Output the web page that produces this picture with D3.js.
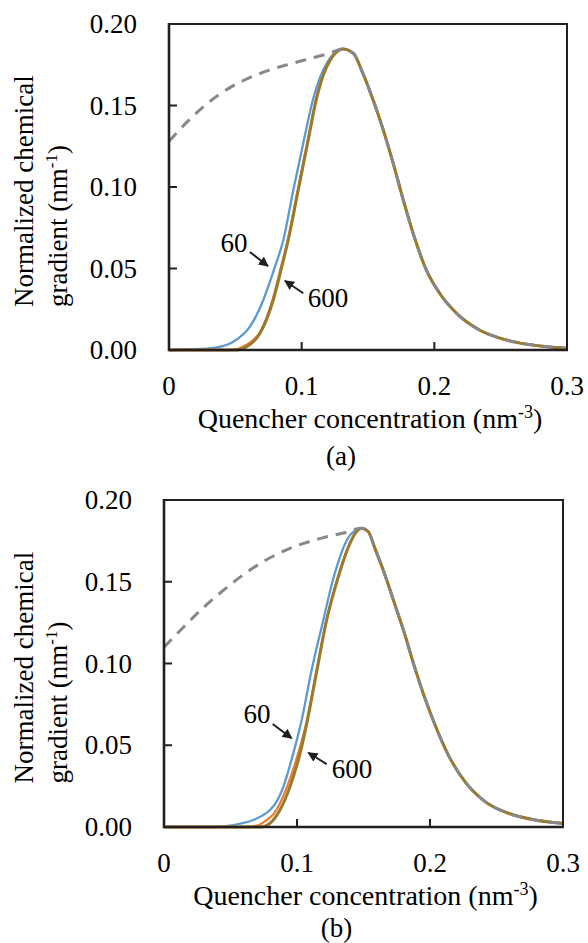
<!DOCTYPE html>
<html lang="en">
<head>
<meta charset="UTF-8">
<title>Normalized chemical gradient</title>
<script src="https://d3js.org/d3.v7.min.js"></script>
<style>
  body { margin: 0; background: #fff; }
</style>
</head>
<body>
<script>
var serif = "Liberation Serif";

// ticks
var xTicks = [0, 0.1, 0.2, 0.3];
var xTickLabels = ["0", "0.1", "0.2", "0.3"];
var yTicks = [0, 0.05, 0.10, 0.15, 0.20];
var yTickLabels = ["0.00", "0.05", "0.10", "0.15", "0.20"];

// panel (a) - rising side of each curve
var a60X  = [0, 0.023, 0.036, 0.0485, 0.061, 0.0711, 0.0799, 0.0862, 0.0937, 0.1017, 0.108, 0.114, 0.119, 0.125, 0.131];
var a60Y  = [0, 0.0006, 0.0016, 0.0051, 0.0143, 0.0307, 0.0511, 0.0675, 0.0982, 0.1288, 0.152, 0.1675, 0.176, 0.1825, 0.1847];
var a120X = [0, 0.045, 0.052, 0.058, 0.0635, 0.069, 0.078, 0.0845, 0.0895, 0.097, 0.1046, 0.1106, 0.1162, 0.1211, 0.1258, 0.131];
var a120Y = [0, 0, 0.0007, 0.003, 0.0061, 0.0115, 0.0307, 0.051, 0.0675, 0.098, 0.129, 0.1535, 0.169, 0.1775, 0.1825, 0.1847];
var a600X = [0, 0.05, 0.054, 0.0585, 0.0686, 0.0786, 0.085, 0.0899, 0.0974, 0.105, 0.111, 0.1165, 0.1213, 0.126, 0.131];
var a600Y = [0, 0, 0.0005, 0.002, 0.0102, 0.0307, 0.051, 0.0675, 0.098, 0.129, 0.1535, 0.169, 0.1775, 0.1825, 0.1847];
// panel (a) - shared falling side
var aFallX = [0.139, 0.146, 0.154, 0.1615, 0.169, 0.1766, 0.184, 0.194, 0.204, 0.2168, 0.234, 0.2545, 0.2796, 0.3];
var aFallY = [0.182, 0.170, 0.153, 0.135, 0.1145, 0.092, 0.0716, 0.049, 0.0348, 0.0225, 0.0123, 0.0061, 0.0025, 0.001];
// panel (a) - dashed envelope
var aEnvX = [0, 0.015, 0.03, 0.045, 0.06, 0.075, 0.09, 0.105, 0.12, 0.131];
var aEnvY = [0.128, 0.141, 0.152, 0.1605, 0.1668, 0.1715, 0.1752, 0.1785, 0.1818, 0.1847];

// panel (b) - rising side
var b60X  = [0, 0.04, 0.052, 0.060, 0.0671, 0.0735, 0.0797, 0.085, 0.0897, 0.0972, 0.1035, 0.111, 0.1198, 0.126, 0.131, 0.136, 0.141, 0.1486];
var b60Y  = [0, 0, 0.0012, 0.0025, 0.0043, 0.0068, 0.0104, 0.016, 0.0246, 0.045, 0.0654, 0.096, 0.1266, 0.148, 0.162, 0.173, 0.1795, 0.1827];
var b120X = [0, 0.062, 0.070, 0.0772, 0.083, 0.091, 0.099, 0.1068, 0.1145, 0.1221, 0.1278, 0.1318, 0.1358, 0.1408, 0.1444, 0.1486];
var b120Y = [0, 0, 0.0008, 0.0043, 0.0085, 0.0215, 0.040, 0.063, 0.095, 0.1266, 0.1445, 0.1555, 0.1655, 0.1755, 0.1805, 0.1827];
var b600X = [0, 0.07, 0.0747, 0.0797, 0.0872, 0.0947, 0.1023, 0.1073, 0.1148, 0.1223, 0.128, 0.132, 0.136, 0.141, 0.1446, 0.1486];
var b600Y = [0, 0, 0.0002, 0.0023, 0.0104, 0.0246, 0.045, 0.063, 0.095, 0.1266, 0.1445, 0.1555, 0.1655, 0.1755, 0.1805, 0.1827];
// panel (b) - shared falling side
var bFallX = [0.1536, 0.1586, 0.1662, 0.1737, 0.1812, 0.1887, 0.1962, 0.2038, 0.2138, 0.2263, 0.2414, 0.2589, 0.279, 0.3];
var bFallY = [0.1806, 0.1704, 0.154, 0.1358, 0.1174, 0.097, 0.0787, 0.0624, 0.044, 0.0277, 0.0155, 0.0084, 0.0043, 0.0022];
// panel (b) - dashed envelope
var bEnvX = [0, 0.015, 0.03, 0.045, 0.06, 0.075, 0.09, 0.105, 0.12, 0.135, 0.1486];
var bEnvY = [0.110, 0.1225, 0.1345, 0.145, 0.1545, 0.1625, 0.1688, 0.1735, 0.177, 0.1798, 0.1827];

// labels (data units): text x, text baseline y, arrow from, arrow to
var aNotes = [
  {label: "60",  tx: 0.0490, ty: 0.0600, x1: 0.0610, y1: 0.0601, x2: 0.0746, y2: 0.0515},
  {label: "600", tx: 0.1198, ty: 0.0264, x1: 0.1012, y1: 0.0348, x2: 0.0874, y2: 0.0425}
];
var bNotes = [
  {label: "60",  tx: 0.0699, ty: 0.0636, x1: 0.0817, y1: 0.0630, x2: 0.0960, y2: 0.0543},
  {label: "600", tx: 0.1414, ty: 0.0300, x1: 0.1223, y1: 0.0385, x2: 0.1085, y2: 0.0454}
];

var colors = {c60: "#5b9bd5", c120: "#ed7d31", c600: "#9a7a2c", env: "#888888"};

var svg = d3.select("body").append("svg")
  .attr("width", 588)
  .attr("height", 943);

svg.append("defs").append("marker")
  .attr("id", "head")
  .attr("viewBox", "0 0 10 10")
  .attr("refX", 9).attr("refY", 5)
  .attr("markerWidth", 5).attr("markerHeight", 5)
  .attr("markerUnits", "strokeWidth")
  .attr("orient", "auto")
  .append("path")
  .attr("d", "M0,0 L10,5 L0,10 Z")
  .attr("fill", "#231f20");

function pts(xs, ys) {
  return xs.map(function(x, i) { return [x, ys[i]]; });
}

function txt(sel, size) {
  return sel.append("text")
    .attr("font-family", serif)
    .attr("font-size", size)
    .attr("fill", "#000");
}

function drawPanel(p) {
  var g = svg.append("g").attr("transform", "translate(" + p.left + "," + p.top + ")");
  var x = d3.scaleLinear().domain([0, 0.3]).range([0, p.width]);
  var y = d3.scaleLinear().domain([0, 0.2]).range([p.height, 0]);

  var line = d3.line()
    .x(function(d) { return x(d[0]); })
    .y(function(d) { return y(d[1]); })
    .curve(d3.curveMonotoneX);

  var fall = pts(p.fallX, p.fallY);
  var series = [
    {d: pts(p.s60X, p.s60Y).concat(fall), c: colors.c60, w: 2.3},
    {d: pts(p.s120X, p.s120Y).concat(fall), c: colors.c120, w: 2.3},
    {d: pts(p.s600X, p.s600Y).concat(fall), c: colors.c600, w: 3}
  ];
  g.selectAll(".curve").data(series).enter()
    .append("path")
    .attr("class", "curve")
    .attr("d", function(s) { return line(s.d); })
    .attr("fill", "none")
    .attr("stroke", function(s) { return s.c; })
    .attr("stroke-width", function(s) { return s.w; });

  // dashed envelope, follows the curves after the peak
  g.append("path")
    .attr("d", line(pts(p.envX, p.envY).concat(fall)))
    .attr("fill", "none")
    .attr("stroke", colors.env)
    .attr("stroke-width", 3)
    .attr("stroke-dasharray", "11,8");

  // frame
  g.append("rect")
    .attr("width", p.width).attr("height", p.height)
    .attr("fill", "none").attr("stroke", "#231f20").attr("stroke-width", 2);
  g.append("line").attr("x1", 0).attr("x2", 0).attr("y1", -1).attr("y2", p.height + 1)
    .attr("stroke", "#231f20").attr("stroke-width", 2.6);
  g.append("line").attr("x1", -1).attr("x2", p.width + 1).attr("y1", p.height).attr("y2", p.height)
    .attr("stroke", "#231f20").attr("stroke-width", 2.6);

  // inward ticks
  g.selectAll(".yt").data(yTicks.slice(1, -1)).enter().append("line")
    .attr("x1", 0).attr("x2", 8)
    .attr("y1", function(d) { return y(d); }).attr("y2", function(d) { return y(d); })
    .attr("stroke", "#231f20").attr("stroke-width", 2);
  g.selectAll(".xt").data(xTicks.slice(1, -1)).enter().append("line")
    .attr("y1", p.height).attr("y2", p.height - 8)
    .attr("x1", function(d) { return x(d); }).attr("x2", function(d) { return x(d); })
    .attr("stroke", "#231f20").attr("stroke-width", 2);

  // tick labels
  yTicks.forEach(function(d, i) {
    txt(g, 27).attr("x", -32).attr("y", y(d) + 9)
      .attr("text-anchor", "end").text(yTickLabels[i]);
  });
  xTicks.forEach(function(d, i) {
    txt(g, 27).attr("x", x(d)).attr("y", p.height + 45)
      .attr("text-anchor", "middle").text(xTickLabels[i]);
  });

  // x title
  var xt = txt(g, 28)
    .attr("x", p.width / 2 + 2)
    .attr("y", p.height + 78)
    .attr("text-anchor", "middle");
  xt.append("tspan").text("Quencher concentration (nm");
  xt.append("tspan").attr("dy", -10).attr("font-size", 18).text("-3");
  xt.append("tspan").attr("dy", 10).text(")");

  // panel letter
  txt(g, 27)
    .attr("x", p.width / 2 - 27)
    .attr("y", p.height + p.letterDy)
    .attr("text-anchor", "middle")
    .text(p.letter);

  // y title, two lines starting from the same point
  var yt = g.append("g")
    .attr("transform", "translate(" + (33 - p.left) + "," + (p.height / 2 + 120) + ") rotate(-90)");
  txt(yt, 27).attr("y", 0).text("Normalized chemical");
  var y2 = txt(yt, 27).attr("y", 34);
  y2.append("tspan").text("gradient (nm");
  y2.append("tspan").attr("dy", -10).attr("font-size", 17).text("-1");
  y2.append("tspan").attr("dy", 10).text(")");

  // annotations
  p.notes.forEach(function(n) {
    txt(g, 27)
      .attr("x", x(n.tx)).attr("y", y(n.ty))
      .attr("text-anchor", "middle")
      .text(n.label);
    g.append("line")
      .attr("x1", x(n.x1)).attr("y1", y(n.y1))
      .attr("x2", x(n.x2)).attr("y2", y(n.y2))
      .attr("stroke", "#231f20").attr("stroke-width", 2)
      .attr("marker-end", "url(#head)");
  });
}

drawPanel({
  left: 169, top: 24, width: 398, height: 326, letter: "(a)", letterDy: 115,
  s60X: a60X, s60Y: a60Y, s120X: a120X, s120Y: a120Y, s600X: a600X, s600Y: a600Y,
  fallX: aFallX, fallY: aFallY, envX: aEnvX, envY: aEnvY, notes: aNotes
});
drawPanel({
  left: 164, top: 500, width: 399, height: 327, letter: "(b)", letterDy: 110,
  s60X: b60X, s60Y: b60Y, s120X: b120X, s120Y: b120Y, s600X: b600X, s600Y: b600Y,
  fallX: bFallX, fallY: bFallY, envX: bEnvX, envY: bEnvY, notes: bNotes
});
</script>
</body>
</html>
